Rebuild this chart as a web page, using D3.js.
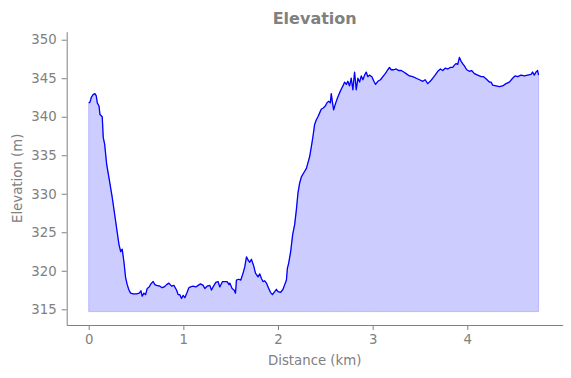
<!DOCTYPE html>
<html>
<head>
<meta charset="utf-8">
<script src="https://cdn.jsdelivr.net/npm/d3@7"></script>
<style>
body{margin:0;background:#fff;}
text{font-family:"DejaVu Sans",sans-serif;}
</style>
</head>
<body>
<svg id="drawing_region"></svg>
<script>
// distance along the track (km)
const distance = [
0.000,0.014,0.027,0.049,0.066,0.080,0.091,0.109,0.119,0.143,0.154,0.169,0.190,0.214,0.249,0.285,0.320,0.338,0.354,0.372,
0.390,0.407,0.425,0.443,0.470,0.506,0.534,0.552,0.565,0.583,0.601,0.618,0.639,0.657,0.681,0.699,0.717,0.752,0.776,0.797,
0.823,0.847,0.876,0.900,0.928,0.945,0.963,0.981,0.998,1.016,1.040,1.058,1.076,1.103,1.132,1.156,1.181,1.209,1.227,1.251,
1.280,1.297,1.314,1.343,1.367,1.385,1.414,1.438,1.462,1.483,1.491,1.515,1.536,1.551,1.561,1.585,1.607,1.631,1.649,1.667,
1.684,1.702,1.719,1.744,1.762,1.789,1.807,1.825,1.842,1.860,1.878,1.895,1.920,1.941,1.965,1.983,2.000,2.028,2.053,2.071,
2.089,2.099,2.113,2.134,2.155,2.176,2.194,2.211,2.229,2.247,2.271,2.300,2.316,2.334,2.352,2.369,2.387,2.405,2.422,2.440,
2.458,2.475,2.500,2.517,2.535,2.553,2.563,2.574,2.588,2.605,2.627,2.651,2.669,2.686,2.704,2.722,2.738,2.756,2.774,2.791,
2.809,2.827,2.844,2.862,2.880,2.897,2.915,2.932,2.949,2.967,2.992,3.013,3.031,3.055,3.083,3.108,3.133,3.160,3.178,3.196,
3.224,3.249,3.273,3.302,3.329,3.354,3.389,3.424,3.460,3.495,3.530,3.555,3.582,3.608,3.635,3.660,3.688,3.716,3.741,3.766,
3.793,3.822,3.846,3.864,3.882,3.899,3.917,3.935,3.951,3.969,3.994,4.022,4.046,4.075,4.110,4.146,4.173,4.209,4.233,4.251,
4.268,4.304,4.339,4.373,4.409,4.444,4.479,4.504,4.532,4.568,4.603,4.637,4.673,4.690,4.708,4.726,4.743,4.753
];
// elevation (m)
const elevation = [
341.8,341.9,342.5,342.9,343.0,342.7,341.8,341.4,340.3,340.0,337.3,336.4,333.8,332.1,329.5,326.4,323.4,322.5,322.8,321.2,
319.1,318.2,317.5,317.1,317.0,317.0,317.1,317.4,316.7,317.1,316.9,317.7,317.9,318.3,318.6,318.2,318.1,318.0,317.8,317.9,
318.2,318.4,318.0,318.1,317.5,316.9,316.9,316.4,316.8,316.5,317.2,317.8,317.9,318.0,317.9,318.1,318.3,318.1,317.7,318.0,
318.1,317.5,317.9,318.5,318.6,317.9,318.6,318.6,318.6,318.2,318.4,317.7,317.5,317.1,318.8,318.9,318.8,319.7,320.5,321.8,
321.4,321.1,321.5,320.6,319.7,319.2,319.6,319.0,318.6,318.7,318.4,317.9,317.2,316.9,317.3,317.6,317.3,317.2,317.6,318.2,
318.8,320.3,321.0,322.5,324.7,326.0,327.9,330.1,331.4,332.2,332.7,333.3,334.0,334.8,336.1,337.4,339.0,339.6,340.0,340.5,
341.0,341.1,341.4,341.8,342.0,341.8,343.0,342.0,340.9,341.6,342.4,343.1,343.6,344.0,344.5,344.2,344.6,344.0,345.0,343.5,
345.8,343.5,345.0,344.5,345.3,344.8,345.4,345.8,345.2,345.4,345.2,344.6,344.2,344.6,344.8,345.2,345.6,346.1,346.4,346.1,
346.1,346.2,346.0,346.0,345.8,345.6,345.3,345.2,345.0,344.8,344.6,344.8,344.3,344.6,345.0,345.4,345.9,346.2,346.0,346.3,
346.2,346.4,346.4,346.7,346.9,346.8,347.7,347.2,346.9,346.6,346.1,345.9,346.0,345.6,345.4,345.2,345.2,344.8,344.5,344.5,
344.1,344.0,343.9,344.0,344.3,344.5,345.0,345.3,345.2,345.4,345.3,345.4,345.5,345.8,345.4,345.8,346.0,345.4
];
const x_ticks = [0,1,2,3,4];
const y_ticks = [315,320,325,330,335,340,345,350];
const fill_base = 314.7;

class Elevation_chart{
    constructor(config,data){
        this.config = config;
        this.data = data;
        this.init()
    }
    init(){
        let self = this;
        self.svg = d3.select(self.config.parent)
            .attr("width",self.config.width)
            .attr("height",self.config.height)

        self.xscale = d3.scaleLinear()
            .domain([-0.2324,5.008])
            .range([self.config.plot.left,self.config.plot.right]);
        self.yscale = d3.scaleLinear()
            .domain([312.96,351.04])
            .range([self.config.plot.bottom,self.config.plot.top]);
    }
    render(){
        let self = this;
        const grey = "#808080";

        const area = d3.area()
            .x(d=>self.xscale(d.km))
            .y0(self.yscale(fill_base))
            .y1(d=>self.yscale(d.m));
        self.svg.append("path")
            .datum(self.data)
            .attr("d",area)
            .attr("fill","blue")
            .attr("fill-opacity",0.2)
            .attr("stroke","blue")
            .attr("stroke-opacity",0.2)
            .attr("stroke-width",1)

        const line = d3.line()
            .x(d=>self.xscale(d.km))
            .y(d=>self.yscale(d.m));
        self.svg.append("path")
            .datum(self.data)
            .attr("d",line)
            .attr("fill","none")
            .attr("stroke","blue")
            .attr("stroke-width",1.3)
            .attr("stroke-linejoin","round")

        const xaxis = d3.axisBottom(self.xscale)
            .tickValues(x_ticks)
            .tickFormat(d3.format("d"))
            .tickSize(5)
            .tickPadding(5)
            .tickSizeOuter(0);
        const xg = self.svg.append("g")
            .attr("transform",`translate(0,${self.config.plot.bottom})`)
            .call(xaxis)
        const yaxis = d3.axisLeft(self.yscale)
            .tickValues(y_ticks)
            .tickFormat(d3.format("d"))
            .tickSize(5)
            .tickPadding(5)
            .tickSizeOuter(0);
        const yg = self.svg.append("g")
            .attr("transform",`translate(${self.config.plot.left},0)`)
            .call(yaxis)
        ;[xg,yg].forEach(g=>{
            g.select(".domain").attr("stroke",grey).attr("stroke-width",1)
            g.selectAll(".tick line").attr("stroke",grey).attr("stroke-width",1)
            g.selectAll(".tick text").attr("fill",grey).attr("font-size","13.3px")
                .attr("font-family","DejaVu Sans")
        })

        const cx = (self.config.plot.left+self.config.plot.right)/2;
        self.svg.append("text")
            .attr("x",cx)
            .attr("y",23.5)
            .attr("text-anchor","middle")
            .attr("font-weight","bold")
            .attr("font-size","16px")
            .attr("fill",grey)
            .text("Elevation")
        self.svg.append("text")
            .attr("x",cx)
            .attr("y",365)
            .attr("text-anchor","middle")
            .attr("font-size","13.3px")
            .attr("fill",grey)
            .text("Distance (km)")
        self.svg.append("text")
            .attr("transform",`translate(21.5,${(self.config.plot.top+self.config.plot.bottom)/2}) rotate(-90)`)
            .attr("text-anchor","middle")
            .attr("font-size","13.3px")
            .attr("fill",grey)
            .text("Elevation (m)")
    }
}

const data = distance.map((km,i)=>({km:km,m:elevation[i]}));
const config = {
    parent:"#drawing_region",
    width:571,
    height:378,
    plot:{left:66.7,right:562.7,top:31.7,bottom:325}
};
const chart = new Elevation_chart(config,data);
chart.render();
</script>
</body>
</html>
